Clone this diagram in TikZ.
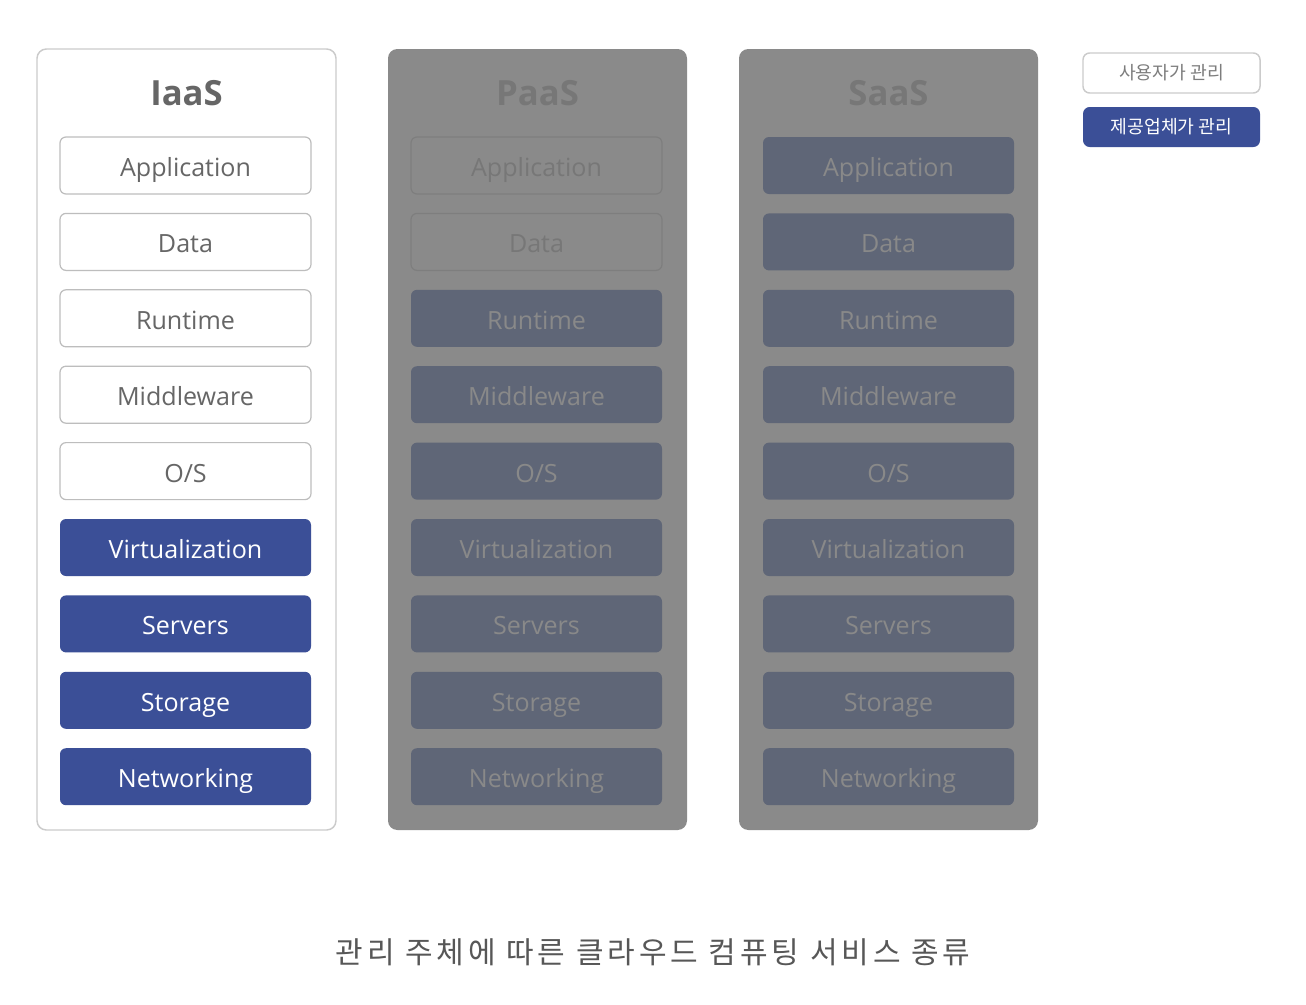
\documentclass[tikz,border=0pt]{standalone}
\usepackage{fontspec}
\setmainfont{Open Sans}
\newfontfamily\krfont{Noto Sans CJK KR}
\newfontfamily\captionfont[LetterSpace=13]{Noto Sans CJK KR}
\definecolor{paneledge}{HTML}{CBCBCB}
\definecolor{boxedge}{HTML}{BDBDBD}
\definecolor{labelgray}{HTML}{666666}
\definecolor{provblue}{HTML}{3B4F97}
\definecolor{shade}{HTML}{8A8A8A}
\definecolor{shadeedge}{HTML}{7E7E7E}
\definecolor{shadetext}{HTML}{777777}
\definecolor{slate}{HTML}{5F6677}
\definecolor{slatetext}{HTML}{898989}
\definecolor{captiongray}{HTML}{575757}
\begin{document}
\begin{tikzpicture}[x=0.75pt,y=-0.75pt,
  panel/.style={rounded corners=7pt, minimum width=224.25pt, minimum height=585.75pt, inner sep=0pt},
  openpanel/.style={panel, draw=paneledge, line width=1.1pt, fill=white},
  greypanel/.style={panel, fill=shade},
  title/.style={font=\fontsize{26}{30}\selectfont\bfseries},
  layer/.style={rounded corners=4.5pt, minimum width=188.25pt, minimum height=42.75pt, inner sep=0pt,
                text height=17pt, text depth=0.5pt, font=\fontsize{18.8}{22}\selectfont},
  userbox/.style={layer, draw=boxedge, line width=0.9pt, fill=white, text=labelgray},
  provbox/.style={layer, fill=provblue, text=white},
  ghostbox/.style={layer, draw=shadeedge, line width=0.9pt, fill=shade, text=shadetext},
  slatebox/.style={layer, fill=slate, text=slatetext},
  legend/.style={rounded corners=5pt, minimum width=132.75pt, minimum height=30pt, inner sep=0pt,
                 font=\krfont\fontsize{13.7}{16}\selectfont}
]
\useasboundingbox (0,0) rectangle (1306,1004);

% three service-model columns
\node[openpanel] (iaas) at (186.5,439.5) {};
\node[greypanel] (paas) at (537.5,439.5) {};
\node[greypanel] (saas) at (888.5,439.5) {};

\node[title, text=labelgray] (iaasT) at (186.5,93) {IaaS};
\node[title, text=shadetext] (paasT) at (537.5,93) {PaaS};
\node[title, text=shadetext] (saasT) at (888.5,93) {SaaS};

% IaaS stack
\foreach \t [count=\i] in {Application,Data,Runtime,Middleware,O/S} {
  \pgfmathsetmacro\yy{165.5+76.4*(\i-1)}
  \node[userbox] (I\i) at (185.5,\yy) {\t};
}
\foreach \t [count=\i from 6] in {Virtualization,Servers,Storage,Networking} {
  \pgfmathsetmacro\yy{165.5+76.4*(\i-1)}
  \node[provbox] (I\i) at (185.5,\yy) {\t};
}

% PaaS stack
\foreach \t [count=\i] in {Application,Data} {
  \pgfmathsetmacro\yy{165.5+76.4*(\i-1)}
  \node[ghostbox] (P\i) at (536.5,\yy) {\t};
}
\foreach \t [count=\i from 3] in {Runtime,Middleware,O/S,Virtualization,Servers,Storage,Networking} {
  \pgfmathsetmacro\yy{165.5+76.4*(\i-1)}
  \node[slatebox] (P\i) at (536.5,\yy) {\t};
}

% SaaS stack
\foreach \t [count=\i] in {Application,Data,Runtime,Middleware,O/S,Virtualization,Servers,Storage,Networking} {
  \pgfmathsetmacro\yy{165.5+76.4*(\i-1)}
  \node[slatebox] (S\i) at (888.5,\yy) {\t};
}

% legend
\node[legend, draw=paneledge, line width=1.1pt, fill=white, text=labelgray!85] (keyUser) at (1171.5,73) {사용자가 관리};
\node[legend, fill=provblue, text=white] (keyProv) at (1171.5,127) {제공업체가 관리};

% caption
\node[font=\captionfont\fontsize{22.5}{26}\selectfont, text=captiongray] (caption) at (653,952)
  {관리 주체에 따른 클라우드 컴퓨팅 서비스 종류};
\end{tikzpicture}
\end{document}
